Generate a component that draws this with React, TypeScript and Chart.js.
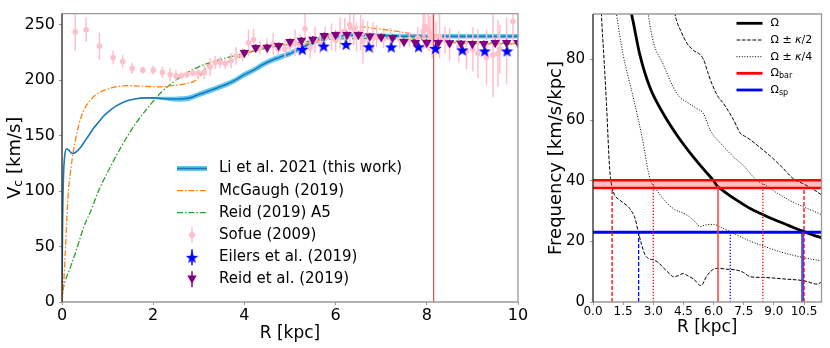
import React, { useEffect, useRef } from "react";
import { Chart, registerables } from "chart.js";

Chart.register(...registerables);

const FONT = "'DejaVu Sans', 'Liberation Sans', sans-serif";

// ================= Left panel: rotation curves =================
const leftXTicks = [0, 2, 4, 6, 8, 10];
const leftYTicks = [0, 50, 100, 150, 200, 250];
const leftXRange = [0, 10];
const leftYRange = [0, 260];

const liR = [0, 0.01, 0.03, 0.06, 0.1, 0.15, 0.2, 0.25, 0.3, 0.4, 0.5, 0.6, 0.7, 0.8, 0.9, 1.0, 1.2, 1.4, 1.6, 1.8, 2.0, 2.2, 2.4, 2.6, 2.8, 3.0, 3.2, 3.4, 3.6, 3.8, 4.0, 4.2, 4.4, 4.6, 4.8, 5.0, 5.2, 5.4, 5.6, 5.8, 6.0, 6.5, 7.0, 7.5, 8.0, 8.5, 9.0, 9.5, 10.0];
const liV = [0, 60, 110, 132, 138, 137, 134.5, 134, 135, 139, 145, 151, 157, 162, 167, 171, 177, 181, 183, 184, 184, 183.5, 183, 183, 184, 187, 190, 193, 196, 200, 205, 209, 214, 218, 221, 224, 228, 232, 236, 239, 240, 240.5, 240, 239.5, 239.5, 239.5, 239.5, 239.5, 239.5];
const liErr = [0.3, 0.3, 0.3, 0.3, 0.3, 0.3, 0.3, 0.3, 0.3, 0.3, 0.3, 0.3, 0.3, 0.3, 0.3, 0.3, 0.3, 0.3, 0.3, 0.3, 0.8, 1.5, 2, 2.5, 2.5, 2.5, 2.5, 2.5, 2.5, 2.5, 2.5, 2.5, 2.5, 2.5, 2.5, 2.5, 2.5, 2.5, 2.5, 2.5, 2, 2, 2, 2, 2, 2, 2, 2, 2];

const mcgR = [0, 0.04, 0.07, 0.11, 0.14, 0.18, 0.22, 0.29, 0.37, 0.47, 0.6, 0.75, 0.9, 1.13, 1.42, 1.8, 2.1, 2.4, 2.7, 2.9, 3.05, 3.2, 3.32, 3.5, 3.7, 3.9, 4.1, 4.3, 4.6, 4.9, 5.2, 5.5, 5.8, 6.1, 6.4, 6.55, 6.8, 7.0, 7.26, 7.5, 7.7, 7.9, 8.13, 8.4, 8.7, 9.0, 9.5, 10.0];
const mcgV = [0, 19, 43, 78, 100, 115, 128, 145, 160, 172, 181, 187, 190.5, 193.5, 195, 194.5, 194, 195, 196.7, 199, 205, 213, 217, 216, 217, 221, 225, 228, 231, 232, 232, 234, 239, 244, 247.5, 248, 247, 246, 244.6, 243, 241, 239, 238, 235, 233.5, 233, 232.8, 232.8];

const reidA5R = [0, 0.02, 0.08, 0.18, 0.3, 0.4, 0.5, 0.62, 0.8, 1.0, 1.3, 1.6, 1.9, 2.2, 2.6, 3.0, 3.5, 4.0, 4.5, 5.0, 5.5, 6.0, 6.5, 7.0, 7.5, 8.0, 8.5, 9.0, 9.5, 10.0];
const reidA5V = [0, 10, 20, 31, 45, 58, 70, 81, 100, 117, 140, 160, 176, 190, 203, 212, 219, 224, 229, 232.5, 235.5, 237, 237.5, 237.5, 237, 236.5, 235.5, 234.5, 233.5, 233];

const sofueR = [0.29, 0.53, 0.82, 1.12, 1.33, 1.54, 1.77, 2.0, 2.2, 2.37, 2.5, 2.62, 2.74, 2.87, 2.99, 3.12, 3.25, 3.36, 3.47, 3.58, 3.71, 3.82, 3.96, 4.09, 4.2, 4.34, 4.49, 4.63, 4.74, 4.89, 5.0, 5.11, 5.22, 5.33, 5.44, 5.55, 5.66, 5.77, 5.91, 6.0, 6.1, 6.2, 6.31, 6.4, 6.46, 6.55, 6.6, 6.7, 6.82, 6.9, 7.05, 7.2, 7.41, 7.62, 7.8, 7.92, 7.96, 8.03, 8.07, 8.12, 8.2, 8.28, 8.4, 8.5, 8.7, 8.87, 9.01, 9.12, 9.31, 9.45, 9.56, 9.6, 9.75, 9.89];
const sofueV = [243.5, 245.5, 230.7, 220.4, 216.8, 210.6, 209, 209, 207, 205, 204, 204, 205, 206.5, 206.5, 207, 212, 216, 216, 215, 217.4, 221.8, 223, 233.7, 236.6, 229.3, 230.7, 232.8, 227.8, 227.8, 231, 233.7, 231.5, 246.4, 229.3, 236.6, 233, 238, 239, 236, 242.6, 244, 250, 246, 239, 243, 235, 241, 238, 239.6, 237, 238, 236.6, 236.6, 238, 244, 248.5, 245.5, 242, 240, 238, 239.6, 236, 232, 230, 226, 227.8, 224, 220.4, 222.7, 224, 227.8, 226, 252.9];
const sofueErr = [17, 11, 12, 6, 6, 5, 3, 4, 5, 6, 5, 3, 3, 3, 4, 6, 8, 6, 5, 5, 7, 8, 6, 12, 10, 6, 7, 10, 6, 8, 6, 12, 10, 14, 10, 12, 9, 10, 12, 10, 14, 12, 18, 15, 13, 16, 20, 12, 14, 10, 8, 9, 8, 7, 10, 16, 20, 18, 16, 20, 15, 20, 12, 15, 14, 16, 20, 22, 25, 38, 30, 22, 30, 20];

const eilersR = [5.27, 5.74, 6.23, 6.73, 7.22, 7.82, 8.19, 8.78, 9.27, 9.76];
const eilersV = [227.8, 230.7, 232.2, 230.1, 229.9, 230.1, 228.6, 227.2, 226.3, 226.3];
const eilersErr = [1.9, 1.5, 1.7, 1.6, 1.6, 1.8, 1.6, 1.7, 2.0, 2.4];

const reidR = [4.0, 4.25, 4.5, 4.75, 5.0, 5.25, 5.5, 5.75, 6.0, 6.25, 6.5, 6.75, 7.0, 7.25, 7.5, 7.75, 8.0, 8.25, 8.5, 8.75, 9.0, 9.25, 9.5, 9.75, 10.0];
const reidV = [224.8, 229.3, 229.5, 231, 234.6, 235.8, 236.7, 240, 240.9, 240.9, 240.9, 239.6, 239, 238.2, 234.6, 233.7, 233.7, 233.7, 233.5, 233.1, 232.8, 232.8, 233.7, 233.7, 233.7];
const reidErr = [3, 3, 3, 3, 3, 3, 3, 3, 3, 3, 3, 3, 3, 3, 3, 3, 3, 3, 3, 3, 3, 3, 3, 3, 3];

const sunR = 8.15;

const leftLegendLabels = ["Li et al. 2021 (this work)", "McGaugh (2019)", "Reid (2019) A5", "Sofue (2009)", "Eilers et al. (2019)", "Reid et al. (2019)"];

// ================= Right panel: frequencies =================
const rightXTicks = [0, 1.5, 3.0, 4.5, 6.0, 7.5, 9.0, 10.5];
const rightYTicks = [0, 20, 40, 60, 80];
const rightXRange = [0, 11.37];
const rightYRange = [0, 95];

const omegaR = [1.85, 1.92, 2.0, 2.33, 2.83, 3.5, 4.17, 4.83, 5.5, 6.0, 6.17, 6.5, 7.17, 7.8, 8.5, 9.0, 9.5, 10.0, 10.5, 11.0, 11.42];
const omegaV = [99, 95, 92.4, 81.6, 70.8, 62.1, 55.1, 49.2, 43.8, 40, 38.4, 36.6, 33.5, 30.9, 28.7, 27.2, 25.9, 24.5, 23.2, 22.0, 21.1];

const plusK2R = [4.0, 4.08, 4.4, 4.67, 5.0, 5.33, 5.5, 5.7, 5.92, 6.2, 6.5, 7.0, 7.33, 7.6, 7.83, 8.3, 8.83, 9.4, 10.0, 10.5, 11.0, 11.42];
const plusK2V = [99, 95, 89, 85.4, 83, 81.6, 80, 76, 71.9, 68, 65.4, 60, 55.7, 54.5, 53.5, 51, 48.1, 44.5, 40.5, 38.9, 37, 35.1];

const minusK2R = [0.4, 0.42, 0.55, 0.67, 0.83, 0.97, 1.1, 1.25, 1.45, 1.67, 1.83, 2.09, 2.25, 2.42, 2.58, 2.75, 3.0, 3.25, 3.5, 3.83, 4.0, 4.25, 4.5, 4.67, 5.0, 5.37, 5.67, 6.0, 6.25, 6.67, 7.17, 7.5, 7.83, 8.5, 9.5, 10.5, 11.17, 11.42];
const minusK2V = [99, 95, 80, 65.4, 43.8, 37.3, 35, 34, 33, 31.9, 30.8, 27.6, 23.2, 18.9, 15.7, 14.4, 13.9, 13, 11.3, 9.2, 8.3, 8.7, 9.4, 8.8, 7.6, 5.4, 8.7, 10.8, 11.1, 10.8, 10.5, 9.7, 8.3, 8.1, 7.6, 7.0, 5.9, 7.0];

const plusK4R = [2.7, 2.75, 3.0, 3.5, 4.0, 4.33, 4.67, 5.17, 5.5, 5.83, 6.5, 7.0, 7.5, 8.17, 8.5, 9.0, 9.5, 10.0, 10.5, 11.0, 11.42];
const plusK4V = [98, 95, 85.9, 78.3, 70.8, 67.5, 65.9, 63.8, 62.1, 56.7, 51.3, 47.8, 44.9, 40, 38.9, 36.6, 34.6, 32.8, 31.3, 29.9, 28.7];

const minusK4R = [1.1, 1.17, 1.5, 2.0, 2.5, 2.75, 2.9, 3.0, 3.5, 4.0, 4.67, 5.0, 5.33, 5.58, 6.0, 6.4, 6.83, 7.67, 8.5, 9.5, 10.5, 11.42];
const minusK4V = [99, 95, 81.6, 67.6, 52.4, 43, 39.5, 38.5, 34, 30.8, 28.7, 27, 24.9, 25.4, 25.6, 24.5, 23.2, 20.5, 18.4, 16.2, 14.6, 13.5];

const omegaBarLow = 37.6;
const omegaBarHigh = 40.2;
const omegaSp = 23;

const barResR = [0.95, 3.0, 6.22, 8.45, 10.5];
const barResTop = [37.6, 38.9, 38.4, 38.9, 37.6];
const spResR = [2.27, 6.83, 10.43];
const spResTop = [23, 23, 23];

// ================= helpers =================
type Pt = { x: number; y: number };
const zip = (xs: number[], ys: number[]): Pt[] => xs.map((x, i) => ({ x, y: ys[i] }));

function makeStar(size: number, color: string) {
  const c = document.createElement("canvas");
  c.width = size;
  c.height = size;
  const ctx = c.getContext("2d")!;
  const cx = size / 2, cy = size / 2 + 0.6, R = size / 2, r = R * 0.42;
  ctx.beginPath();
  for (let i = 0; i < 10; i++) {
    const a = -Math.PI / 2 + (i * Math.PI) / 5;
    const rr = i % 2 === 0 ? R : r;
    ctx.lineTo(cx + rr * Math.cos(a), cy + rr * Math.sin(a));
  }
  ctx.closePath();
  ctx.fillStyle = color;
  ctx.fill();
  return c;
}

const errorBarPlugin = {
  id: "errorBars",
  beforeDatasetDraw(chart: any, args: any) {
    const ds: any = chart.data.datasets[args.index];
    if (!ds.errorBars) return;
    const ctx = chart.ctx;
    const xs = chart.scales.x, ys = chart.scales.y;
    const a = chart.chartArea;
    ctx.save();
    ctx.beginPath();
    ctx.rect(a.left, a.top, a.right - a.left, a.bottom - a.top);
    ctx.clip();
    ctx.strokeStyle = ds.errorColor;
    ctx.lineWidth = ds.errorWidth || 1.5;
    ds.data.forEach((p: Pt, i: number) => {
      const e = ds.errorBars[i];
      const px = xs.getPixelForValue(p.x);
      ctx.beginPath();
      ctx.moveTo(px, ys.getPixelForValue(p.y - e));
      ctx.lineTo(px, ys.getPixelForValue(p.y + e));
      ctx.stroke();
    });
    ctx.restore();
  },
};

const framePlugin = {
  id: "frame",
  afterDraw(chart: any) {
    const { ctx, chartArea: a } = chart;
    ctx.save();
    ctx.lineWidth = 1.3;
    ctx.strokeStyle = "#9a9a9a";
    ctx.beginPath();
    ctx.moveTo(a.left, a.top);
    ctx.lineTo(a.right, a.top);
    ctx.lineTo(a.right, a.bottom);
    ctx.lineTo(a.left, a.bottom);
    ctx.stroke();
    ctx.strokeStyle = "#222";
    ctx.beginPath();
    ctx.moveTo(a.left, a.top);
    ctx.lineTo(a.left, a.bottom);
    ctx.stroke();
    ctx.restore();
  },
};

function drawDownTriangle(ctx: CanvasRenderingContext2D, x: number, y: number, r: number, color: string) {
  ctx.beginPath();
  for (let i = 0; i < 3; i++) {
    const a = Math.PI / 2 + (i * 2 * Math.PI) / 3;
    ctx.lineTo(x + r * Math.cos(a), y + r * Math.sin(a));
  }
  ctx.closePath();
  ctx.fillStyle = color;
  ctx.fill();
}

function makeLeftDecor(star: HTMLCanvasElement) {
  return {
    id: "leftDecor",
    afterDraw(chart: any) {
      const ctx: CanvasRenderingContext2D = chart.ctx;
      const a = chart.chartArea;
      ctx.save();
      ctx.fillStyle = "#000";
      // x title
      ctx.font = `17px ${FONT}`;
      ctx.textAlign = "center";
      ctx.textBaseline = "middle";
      ctx.fillText("R [kpc]", (a.left + a.right) / 2, 334);
      // legend
      const x0 = a.left + 115, x1 = a.left + 145, xm = (x0 + x1) / 2, tx = a.left + 157;
      const rows = [168.5, 190.7, 212.7, 235, 257.3, 279.3];
      ctx.lineCap = "butt";
      ctx.strokeStyle = "rgba(40,180,240,0.75)";
      ctx.lineWidth = 5;
      ctx.beginPath(); ctx.moveTo(x0, rows[0]); ctx.lineTo(x1, rows[0]); ctx.stroke();
      ctx.strokeStyle = "#1f77b4";
      ctx.lineWidth = 1.6;
      ctx.beginPath(); ctx.moveTo(x0, rows[0]); ctx.lineTo(x1, rows[0]); ctx.stroke();
      ctx.setLineDash([6, 2, 1.5, 2]);
      ctx.strokeStyle = "#ff7f0e";
      ctx.lineWidth = 1.3;
      ctx.beginPath(); ctx.moveTo(x0, rows[1]); ctx.lineTo(x1, rows[1]); ctx.stroke();
      ctx.strokeStyle = "#2ca02c";
      ctx.beginPath(); ctx.moveTo(x0, rows[2]); ctx.lineTo(x1, rows[2]); ctx.stroke();
      ctx.setLineDash([]);
      ctx.strokeStyle = "pink";
      ctx.lineWidth = 1.5;
      ctx.beginPath(); ctx.moveTo(xm, rows[3] - 8); ctx.lineTo(xm, rows[3] + 8); ctx.stroke();
      ctx.fillStyle = "pink";
      ctx.beginPath(); ctx.arc(xm, rows[3], 3, 0, Math.PI * 2); ctx.fill();
      ctx.strokeStyle = "#0000ff";
      ctx.beginPath(); ctx.moveTo(xm, rows[4] - 8); ctx.lineTo(xm, rows[4] + 8); ctx.stroke();
      ctx.drawImage(star, xm - star.width / 2, rows[4] - star.height / 2);
      ctx.strokeStyle = "#800080";
      ctx.beginPath(); ctx.moveTo(xm, rows[5] - 8); ctx.lineTo(xm, rows[5] + 8); ctx.stroke();
      drawDownTriangle(ctx, xm, rows[5] - 1, 5.5, "#800080");
      ctx.fillStyle = "#000";
      ctx.font = `15px ${FONT}`;
      ctx.textAlign = "left";
      leftLegendLabels.forEach((t, i) => ctx.fillText(t, tx, rows[i]));
      // y title with subscript
      ctx.translate(15, (a.top + a.bottom) / 2);
      ctx.rotate(-Math.PI / 2);
      const main = `18px ${FONT}`, sub = `12.5px ${FONT}`;
      ctx.font = main;
      const wV = ctx.measureText("V").width;
      const wRest = ctx.measureText(" [km/s]").width;
      ctx.font = sub;
      const wc = ctx.measureText("c").width;
      let x = -(wV + wc + wRest) / 2;
      ctx.font = main; ctx.fillText("V", x, 0); x += wV;
      ctx.font = sub; ctx.fillText("c", x, 4); x += wc;
      ctx.font = main; ctx.fillText(" [km/s]", x, 0);
      ctx.restore();
    },
  };
}

const rightDecor = {
  id: "rightDecor",
  afterDraw(chart: any) {
    const ctx: CanvasRenderingContext2D = chart.ctx;
    const a = chart.chartArea;
    ctx.save();
    ctx.fillStyle = "#000";
    ctx.font = `17px ${FONT}`;
    ctx.textAlign = "center";
    ctx.textBaseline = "middle";
    ctx.fillText("R [kpc]", (a.left + a.right) / 2, 328);
    const x0 = a.left + 143.5, x1 = a.left + 169.5, tx = a.left + 177.5;
    const rows = [23.3, 40, 56.7, 73.3, 90];
    const line = (y: number, color: string, w: number, dash: number[]) => {
      ctx.setLineDash(dash);
      ctx.strokeStyle = color;
      ctx.lineWidth = w;
      ctx.beginPath(); ctx.moveTo(x0, y); ctx.lineTo(x1, y); ctx.stroke();
    };
    line(rows[0], "#000", 2.8, []);
    line(rows[1], "#000", 1, [3.7, 1.6]);
    line(rows[2], "#000", 1, [1, 1.65]);
    line(rows[3], "#ff0000", 2.8, []);
    line(rows[4], "#0000ff", 2.8, []);
    ctx.setLineDash([]);
    ctx.textAlign = "left";
    const f = `11px ${FONT}`, fi = `italic 11px ${FONT}`, fs = `8px ${FONT}`;
    const seq = (y: number, parts: [string, string, number][]) => {
      let x = tx;
      parts.forEach(([t, font, dy]) => {
        ctx.font = font;
        ctx.fillText(t, x, y + dy);
        x += ctx.measureText(t).width;
      });
    };
    seq(rows[0], [["Ω", f, 0]]);
    seq(rows[1], [["Ω ± ", f, 0], ["κ", fi, 0], ["/2", f, 0]]);
    seq(rows[2], [["Ω ± ", f, 0], ["κ", fi, 0], ["/4", f, 0]]);
    seq(rows[3], [["Ω", f, 0], ["bar", fs, 3]]);
    seq(rows[4], [["Ω", f, 0], ["sp", fs, 3]]);
    ctx.font = `18px ${FONT}`;
    ctx.textAlign = "center";
    ctx.translate(556, (a.top + a.bottom) / 2);
    ctx.rotate(-Math.PI / 2);
    ctx.fillText("Frequency [km/s/kpc]", 0, 0);
    ctx.restore();
  },
};

function scaleOpts(range: number[], ticks: number[], size: number, fit: number, isX: boolean, pad: number, fmt?: (v: number) => string) {
  return {
    type: "linear",
    min: range[0],
    max: range[1],
    afterBuildTicks: (s: any) => {
      s.ticks = ticks.map((v) => ({ value: v }));
    },
    afterFit: (s: any) => {
      if (isX) s.height = fit;
      else s.width = fit;
    },
    grid: { display: true, drawOnChartArea: false, drawTicks: true, tickLength: 3, tickColor: "#999", tickWidth: 1 },
    border: { display: false },
    ticks: {
      font: { family: FONT, size },
      color: "#000",
      padding: pad,
      maxRotation: 0,
      autoSkip: false,
      callback: fmt ? (v: any) => fmt(Number(v)) : (v: any) => String(v),
    },
  };
}

function lineDs(data: Pt[], color: string, width: number, dash: number[], order: number, extra: any = {}) {
  return {
    data,
    borderColor: color,
    borderWidth: width,
    borderDash: dash,
    pointRadius: 0,
    fill: false,
    cubicInterpolationMode: "monotone",
    order,
    ...extra,
  };
}

export default function App() {
  const leftRef = useRef<HTMLCanvasElement>(null);
  const rightRef = useRef<HTMLCanvasElement>(null);

  useEffect(() => {
    const star = makeStar(13, "#0000ff");
    const liUpper = zip(liR, liV.map((v, i) => v + liErr[i]));
    const liLower = zip(liR, liV.map((v, i) => v - liErr[i]));

    const left = new Chart(leftRef.current!, {
      type: "line",
      data: {
        datasets: [
          lineDs(liUpper, "rgba(0,0,0,0)", 0, [], 10, { fill: "+1", backgroundColor: "rgba(40,180,240,0.75)" }),
          lineDs(liLower, "rgba(0,0,0,0)", 0, [], 10),
          lineDs(zip(liR, liV), "#1f77b4", 1.6, [], 9),
          lineDs(zip(mcgR, mcgV), "#ff7f0e", 1.3, [6, 2, 1.5, 2], 8),
          lineDs(zip(reidA5R, reidA5V), "#2ca02c", 1.3, [6, 2, 1.5, 2], 8),
          {
            data: zip(sofueR, sofueV),
            showLine: false,
            pointRadius: 2.8,
            pointBackgroundColor: "pink",
            pointBorderWidth: 0,
            errorBars: sofueErr,
            errorColor: "pink",
            errorWidth: 1.5,
            order: 6,
          },
          lineDs([{ x: sunR, y: leftYRange[0] }, { x: sunR, y: leftYRange[1] }], "rgba(210,40,40,0.9)", 1.1, [], 5, { cubicInterpolationMode: "default" }),
          {
            data: zip(eilersR, eilersV),
            showLine: false,
            pointStyle: star,
            pointRadius: 5,
            errorBars: eilersErr,
            errorColor: "#0000ff",
            errorWidth: 1.5,
            order: 3,
          },
          {
            data: zip(reidR, reidV),
            showLine: false,
            pointStyle: "triangle",
            rotation: 180,
            pointRadius: 5.5,
            pointBackgroundColor: "#800080",
            pointBorderWidth: 0,
            errorBars: reidErr,
            errorColor: "#800080",
            errorWidth: 1.5,
            order: 2,
          },
        ] as any,
      },
      options: {
        responsive: false,
        animation: false,
        devicePixelRatio: 1,
        layout: { padding: { left: 0, top: 8, right: 312, bottom: 0 } },
        plugins: { legend: { display: false }, tooltip: { enabled: false } },
        scales: {
          x: scaleOpts(leftXRange, leftXTicks, 16, 46, true, 1),
          y: scaleOpts(leftYRange, leftYTicks, 16, 62, false, 4),
        } as any,
      },
      plugins: [errorBarPlugin, framePlugin, makeLeftDecor(star)],
    } as any);

    const vline = (x: number, top: number, color: string, width: number, dash: number[], order: number) =>
      lineDs([{ x, y: 0 }, { x, y: top }], color, width, dash, order, { cubicInterpolationMode: "default" });
    const hline = (y: number, color: string, width: number, order: number, extra: any = {}) =>
      lineDs([{ x: rightXRange[0], y }, { x: rightXRange[1], y }], color, width, [], order, { cubicInterpolationMode: "default", ...extra });

    const barStyles: [string, number, number[]][] = [
      ["#ff0000", 1.3, [4, 2]],
      ["#ff0000", 1.3, [1.2, 1.8]],
      ["rgba(255,60,60,0.75)", 2, []],
      ["#ff0000", 1.3, [1.2, 1.8]],
      ["#ff0000", 1.3, [4, 2]],
    ];
    const spStyles: [string, number, number[]][] = [
      ["#0000ff", 1.3, [4, 2]],
      ["#0000ff", 1.3, [1.2, 1.8]],
      ["rgba(50,50,230,0.85)", 3, []],
    ];

    const right = new Chart(rightRef.current!, {
      type: "line",
      data: {
        datasets: [
          hline(omegaBarHigh, "#ff0000", 2.5, 3, { fill: "+1", backgroundColor: "rgba(255,0,0,0.25)" }),
          hline(omegaBarLow, "#ff0000", 2.5, 3),
          hline(omegaSp, "#0000ff", 3, 3),
          lineDs(zip(omegaR, omegaV), "#000", 2.8, [], 5),
          lineDs(zip(plusK2R, plusK2V), "#000", 1, [3.7, 1.6], 6),
          lineDs(zip(minusK2R, minusK2V), "#000", 1, [3.7, 1.6], 6),
          lineDs(zip(plusK4R, plusK4V), "#000", 1, [1, 1.65], 6),
          lineDs(zip(minusK4R, minusK4V), "#000", 1, [1, 1.65], 6),
          ...barResR.map((r, i) => vline(r, barResTop[i], barStyles[i][0], barStyles[i][1], barStyles[i][2], 2)),
          ...spResR.map((r, i) => vline(r, spResTop[i], spStyles[i][0], spStyles[i][1], spStyles[i][2], 2)),
        ] as any,
      },
      options: {
        responsive: false,
        animation: false,
        devicePixelRatio: 1,
        layout: { padding: { left: 530, top: 8, right: 8.5, bottom: 0 } },
        plugins: { legend: { display: false }, tooltip: { enabled: false } },
        scales: {
          x: scaleOpts(rightXRange, rightXTicks, 12, 46, true, 0, (v) => v.toFixed(1)),
          y: scaleOpts(rightYRange, rightYTicks, 15, 63, false, 5),
        } as any,
      },
      plugins: [framePlugin, rightDecor],
    } as any);

    return () => {
      left.destroy();
      right.destroy();
    };
  }, []);

  return (
    <div style={{ position: "fixed", left: 0, top: 0, width: 830, height: 348, background: "#fff" }}>
      <canvas ref={leftRef} width={830} height={348} style={{ position: "absolute", left: 0, top: 0 }} />
      <canvas ref={rightRef} width={830} height={348} style={{ position: "absolute", left: 0, top: 0 }} />
    </div>
  );
}
